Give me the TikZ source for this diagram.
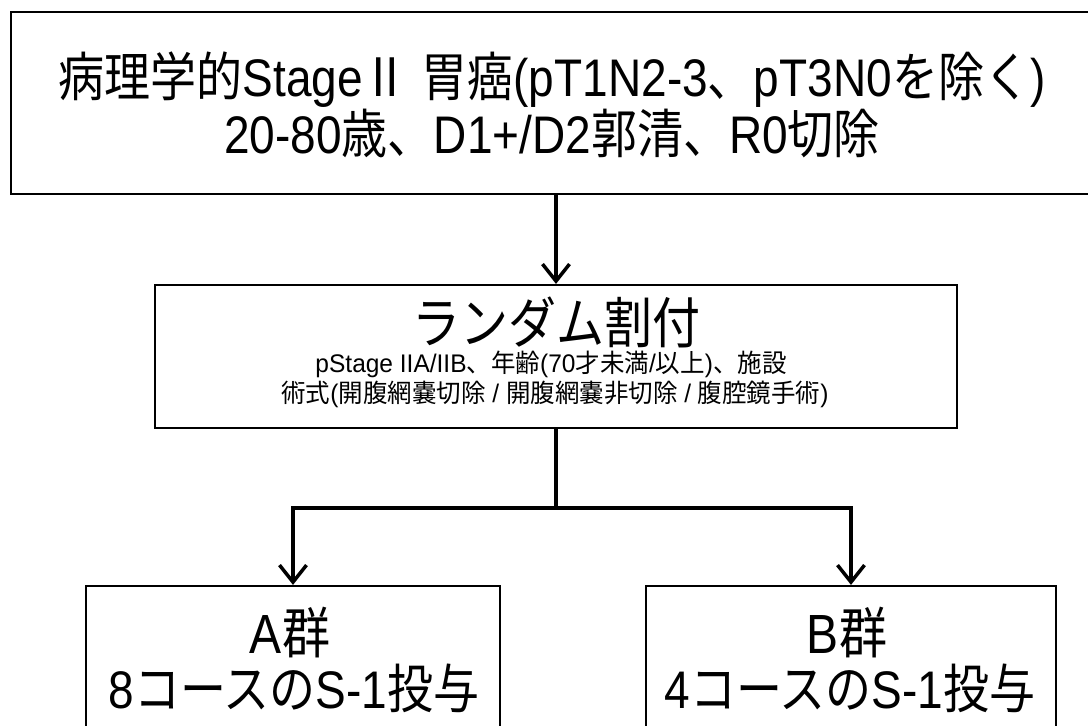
\documentclass[tikz,border=0pt]{standalone}
\usepackage{fontspec}
\setmainfont{Liberation Sans}
\newfontfamily\jp{Noto Sans CJK JP}
\usetikzlibrary{arrows.meta}
\newcommand\vst[1]{\scalebox{1}[1.15]{#1}}
\newcommand\vsmall[1]{\scalebox{1}[1.04]{#1}}
\tikzset{
  box/.style={draw=black, line width=2.2pt, rectangle, inner sep=0pt},
  conn/.style={draw=black, line width=3.5pt},
  arr/.style={conn, -{Straight Barb[length=17pt,width=27pt,line width=3.5pt]}},
  txt/.style={anchor=base, inner sep=0pt, text=black},
}
\begin{document}
\begin{tikzpicture}[x=1pt,y=-1pt]
\useasboundingbox (0,0) rectangle (1088,726);
\clip (0,0) rectangle (1088,726);
% boxes
\node[box, minimum width=1090pt, minimum height=182pt] (top) at (556,103) {};
\node[box, minimum width=802pt, minimum height=143pt] (mid) at (556,356.5) {};
\node[box, minimum width=414pt, minimum height=160pt] (A) at (293,666) {};
\node[box, minimum width=410pt, minimum height=160pt] (B) at (851,666) {};
% texts
\node[txt, font=\fontsize{46}{46}\selectfont] (t1) at (552,96) {\vst{{\jp 病理学的}Stage{\jp Ⅱ} {\jp 胃癌}(pT1N2-3{\jp 、}pT3N0{\jp を除く})}};
\node[txt, font=\fontsize{46}{46}\selectfont] (t2) at (552,153) {\vst{20-80{\jp 歳、}D1+/D2{\jp 郭清、}R0{\jp 切除}}};
\node[txt, font=\fontsize{48}{48}\selectfont] (m1) at (556,343) {\vst{\jp ランダム割付}};
\node[txt, font=\fontsize{24.5}{24.5}\selectfont] (m2) at (551,372) {\vsmall{pStage IIA/IIB{\jp 、年齢}(70{\jp 才未満}/{\jp 以上}){\jp 、施設}}};
\node[txt, font=\fontsize{24.5}{24.5}\selectfont] (m3) at (555,402) {\vsmall{{\jp 術式}({\jp 開腹網嚢切除} / {\jp 開腹網嚢非切除} / {\jp 腹腔鏡手術})}};
\node[txt, font=\fontsize{48}{48}\selectfont] (a1) at (290,653) {\vst{A{\jp 群}}};
\node[txt, font=\fontsize{46}{46}\selectfont] (a2) at (294,708) {\vst{8{\jp コースの}S-1{\jp 投与}}};
\node[txt, font=\fontsize{48}{48}\selectfont] (b1) at (847,653) {\vst{B{\jp 群}}};
\node[txt, font=\fontsize{46}{46}\selectfont] (b2) at (850,708) {\vst{4{\jp コースの}S-1{\jp 投与}}};
% connectors
\coordinate (split) at (556,508);
\draw[arr] (top.south) -- (mid.north);
\draw[conn] (mid.south) -- (split);
\draw[arr] (split) -| (A.north);
\draw[arr] (split) -| (B.north);
\end{tikzpicture}
\end{document}
